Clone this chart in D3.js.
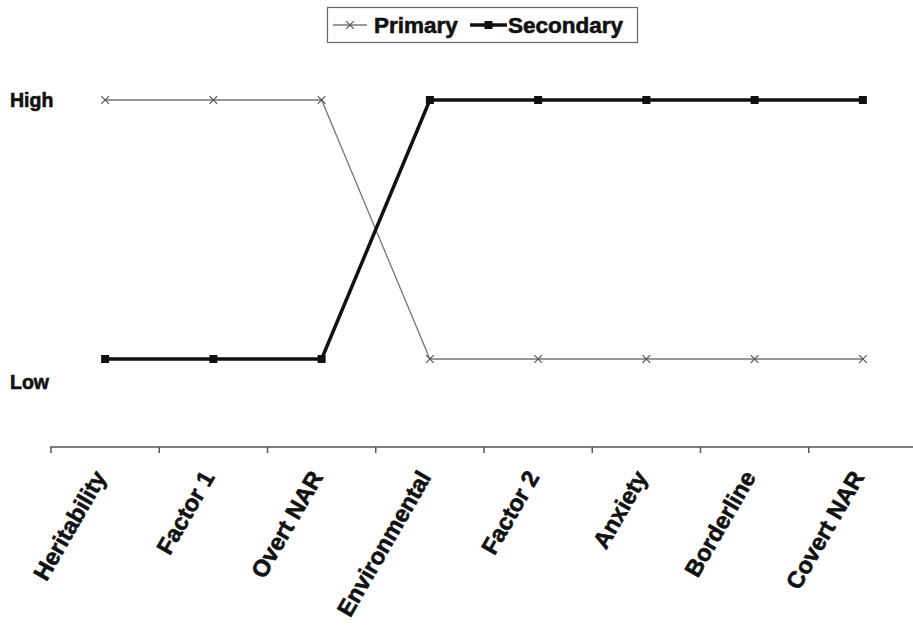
<!DOCTYPE html>
<html>
<head>
<meta charset="utf-8">
<script src="https://cdn.jsdelivr.net/npm/d3@7"></script>
<style>
  body { margin: 0; background: #fff; }
  svg { display: block; font-family: "Liberation Sans", Arial, sans-serif; }
</style>
</head>
<body>
<div id="chart"></div>
<script>
// categories along the x axis
const categories = ["Heritability", "Factor 1", "Overt NAR", "Environmental",
                    "Factor 2", "Anxiety", "Borderline", "Covert NAR"];
// 1 = High, 0 = Low
const primary   = [1, 1, 1, 0, 0, 0, 0, 0];
const secondary = [0, 0, 0, 1, 1, 1, 1, 1];
// y labels (Low label sits a little below the Low level)
const yLabels = [{ text: "High", value: 1 }, { text: "Low", value: -0.09 }];

const width = 913, height = 627;

const svg = d3.select("#chart")
    .append("svg")
    .attr("width", width)
    .attr("height", height);

const x = d3.scaleBand()
    .domain(categories)
    .range([51, 917]);

const y = d3.scaleLinear()
    .domain([0, 1])
    .range([359, 100]);

const cx = d => x(d) + x.bandwidth() / 2;

// heavy bold text helper
const heavy = sel => sel
    .attr("font-weight", "bold")
    .attr("fill", "#111")
    .attr("stroke", "#111")
    .attr("stroke-width", 0.6);

// x axis
const axisY = 447;
svg.append("line")
    .attr("x1", 50).attr("x2", width)
    .attr("y1", axisY).attr("y2", axisY)
    .attr("stroke", "#555").attr("stroke-width", 1.5);

svg.append("g")
    .selectAll("line")
    .data(categories)
    .join("line")
    .attr("x1", d => x(d)).attr("x2", d => x(d))
    .attr("y1", axisY).attr("y2", axisY + 6)
    .attr("stroke", "#555").attr("stroke-width", 1.5);

svg.append("g")
    .selectAll("text")
    .data(categories)
    .join("text")
    .attr("text-anchor", "end")
    .attr("transform", d => `translate(${cx(d) + 2},${axisY + 30}) rotate(-60)`)
    .attr("font-size", 23.5)
    .call(heavy)
    .text(d => d);

// y labels
svg.append("g")
    .selectAll("text")
    .data(yLabels)
    .join("text")
    .attr("x", 10)
    .attr("y", d => y(d.value))
    .attr("dy", "0.35em")
    .attr("font-size", 19.5)
    .call(heavy)
    .text(d => d.text);

const line = d3.line()
    .x((d, i) => cx(categories[i]))
    .y(d => y(d));

// Primary series
svg.append("path")
    .datum(primary)
    .attr("d", line)
    .attr("fill", "none")
    .attr("stroke", "#777")
    .attr("stroke-width", 1.3);

const cross = d3.symbol().type(d3.symbolX).size(40);
svg.append("g")
    .selectAll("path")
    .data(primary)
    .join("path")
    .attr("transform", (d, i) => `translate(${cx(categories[i])},${y(d)})`)
    .attr("d", cross)
    .attr("fill", "none")
    .attr("stroke", "#555")
    .attr("stroke-width", 1.2);

// Secondary series
svg.append("path")
    .datum(secondary)
    .attr("d", line)
    .attr("fill", "none")
    .attr("stroke", "#111")
    .attr("stroke-width", 3.5);

svg.append("g")
    .selectAll("rect")
    .data(secondary)
    .join("rect")
    .attr("x", (d, i) => cx(categories[i]) - 4)
    .attr("y", d => y(d) - 4)
    .attr("width", 8)
    .attr("height", 8)
    .attr("fill", "#111");

// legend
const legend = svg.append("g");
legend.append("rect")
    .attr("x", 327.5).attr("y", 7.5)
    .attr("width", 310).attr("height", 35)
    .attr("fill", "#fff")
    .attr("stroke", "#666").attr("stroke-width", 1.2);

legend.append("line")
    .attr("x1", 333).attr("x2", 367).attr("y1", 25).attr("y2", 25)
    .attr("stroke", "#777").attr("stroke-width", 1.3);
legend.append("path")
    .attr("transform", "translate(350,25)")
    .attr("d", cross)
    .attr("fill", "none").attr("stroke", "#555").attr("stroke-width", 1.2);
legend.append("text")
    .attr("x", 374).attr("y", 25).attr("dy", "0.35em")
    .attr("font-size", 22.5).call(heavy)
    .text("Primary");

legend.append("line")
    .attr("x1", 470).attr("x2", 507).attr("y1", 25).attr("y2", 25)
    .attr("stroke", "#111").attr("stroke-width", 3.5);
legend.append("rect")
    .attr("x", 484.5).attr("y", 21).attr("width", 8).attr("height", 8)
    .attr("fill", "#111");
legend.append("text")
    .attr("x", 508).attr("y", 25).attr("dy", "0.35em")
    .attr("font-size", 22.5).call(heavy)
    .text("Secondary");
</script>
</body>
</html>
